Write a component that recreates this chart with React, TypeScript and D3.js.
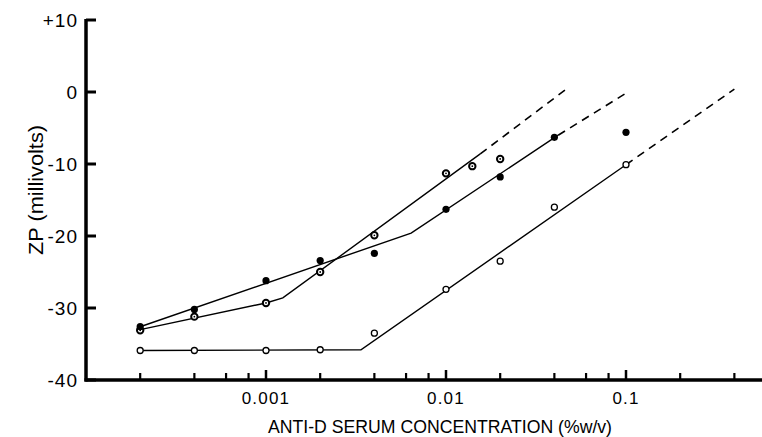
import React from "react";
import * as d3 from "d3";

// anti-D serum concentration (% w/v) and zeta potential (mV)
const concFilled = [0.0002, 0.0004, 0.001, 0.002, 0.004, 0.01, 0.02, 0.04, 0.1];
const zpFilled = [-32.6, -30.2, -26.2, -23.4, -22.4, -16.3, -11.8, -6.3, -5.6];

const concHalf = [0.0002, 0.0004, 0.001, 0.002, 0.004, 0.01, 0.014, 0.02];
const zpHalf = [-33.1, -31.2, -29.3, -25.0, -19.9, -11.3, -10.3, -9.3];

const concOpen = [0.0002, 0.0004, 0.001, 0.002, 0.004, 0.01, 0.02, 0.04, 0.1];
const zpOpen = [-35.9, -35.9, -35.9, -35.8, -33.5, -27.4, -23.5, -16.0, -10.1];

// fitted lines: solid part, then dashed extrapolation
const fitFilled = [[0.0002, -32.6], [0.0064, -19.6], [0.042, -6.0]];
const dashFilled = [[0.042, -6.0], [0.104, 0.1]];
const fitHalf = [[0.0002, -33.0], [0.001, -29.3], [0.00124, -28.6], [0.0155, -8.6]];
const dashHalf = [[0.0155, -8.6], [0.046, 0.3]];
const fitOpen = [[0.0002, -35.9], [0.00337, -35.8], [0.1, -10.1]];
const dashOpen = [[0.1, -10.1], [0.4, 0.4]];

const yTicks = [10, 0, -10, -20, -30, -40];
const yTickLabels = ["+10", "0", "-10", "-20", "-30", "-40"];
const xMajor = [0.001, 0.01, 0.1];
const xMajorLabels = ["0.001", "0.01", "0.1"];
const xMinor = [0.0002, 0.0004, 0.0006, 0.0008, 0.002, 0.004, 0.006, 0.008,
  0.02, 0.04, 0.06, 0.08, 0.2, 0.4];

export default function App() {
  const W = 762, H = 437;
  const left = 86, bottom = 380, top = 20;

  const x = d3.scaleLog().domain([0.0001, 1]).range([left, left + 720]);
  const y = d3.scaleLinear().domain([-40, 10]).range([bottom, top]);
  const line = d3.line<number[]>().x(d => x(d[0])).y(d => y(d[1]));

  const font = "'Liberation Sans', Arial, sans-serif";

  return (
    <svg width={W} height={H} style={{ position: "absolute", left: 0, top: 0, background: "#fff" }}>
      {/* axes */}
      <line x1={left} x2={left} y1={top - 1} y2={bottom + 1.5} stroke="#000" strokeWidth={3.5} />
      <line x1={left - 1.5} x2={W} y1={bottom} y2={bottom} stroke="#000" strokeWidth={3.5} />
      {yTicks.map((t, i) => (
        <g key={"y" + t}>
          <line x1={left} x2={left + 10} y1={y(t)} y2={y(t)} stroke="#000" strokeWidth={3} />
          <text x={78} y={y(t)} dy="0.36em" textAnchor="end" fontFamily={font} fontSize={19} letterSpacing={1}>
            {yTickLabels[i]}
          </text>
        </g>
      ))}
      {xMajor.map((t, i) => (
        <g key={"xm" + t}>
          <line x1={x(t)} x2={x(t)} y1={bottom} y2={bottom - 10} stroke="#000" strokeWidth={2.5} />
          <text x={x(t)} y={404} textAnchor="middle" fontFamily={font} fontSize={17} letterSpacing={1.2}>
            {xMajorLabels[i]}
          </text>
        </g>
      ))}
      {xMinor.map(t => (
        <line key={"xn" + t} x1={x(t)} x2={x(t)} y1={bottom} y2={bottom - 7} stroke="#000" strokeWidth={2.2} />
      ))}
      <text x={268} y={433} fontFamily={font} fontSize={19}
        textLength={344} lengthAdjust="spacingAndGlyphs">
        ANTI-D SERUM CONCENTRATION (%w/v)
      </text>
      <text transform="translate(43,190) rotate(-90)" textAnchor="middle" fontFamily={font} fontSize={20}
        textLength={130} lengthAdjust="spacingAndGlyphs">
        ZP (millivolts)
      </text>

      {/* fitted lines */}
      {[fitFilled, fitHalf, fitOpen].map((f, i) => (
        <path key={"f" + i} d={line(f) || ""} fill="none" stroke="#000" strokeWidth={1.4} />
      ))}
      {[dashFilled, dashHalf, dashOpen].map((f, i) => (
        <path key={"d" + i} d={line(f) || ""} fill="none" stroke="#000" strokeWidth={1.6} strokeDasharray="8 6" />
      ))}

      {/* points */}
      {concOpen.map((c, i) => (
        <circle key={"o" + i} cx={x(c)} cy={y(zpOpen[i])} r={3} fill="#fff" stroke="#000" strokeWidth={1.3} />
      ))}
      {concHalf.map((c, i) => (
        <g key={"h" + i}>
          <circle cx={x(c)} cy={y(zpHalf[i])} r={3.2} fill="#fff" stroke="#000" strokeWidth={2} />
          <circle cx={x(c)} cy={y(zpHalf[i])} r={0.9} fill="#000" />
        </g>
      ))}
      {concFilled.map((c, i) => (
        <circle key={"b" + i} cx={x(c)} cy={y(zpFilled[i])} r={3.6} fill="#000" />
      ))}
    </svg>
  );
}
